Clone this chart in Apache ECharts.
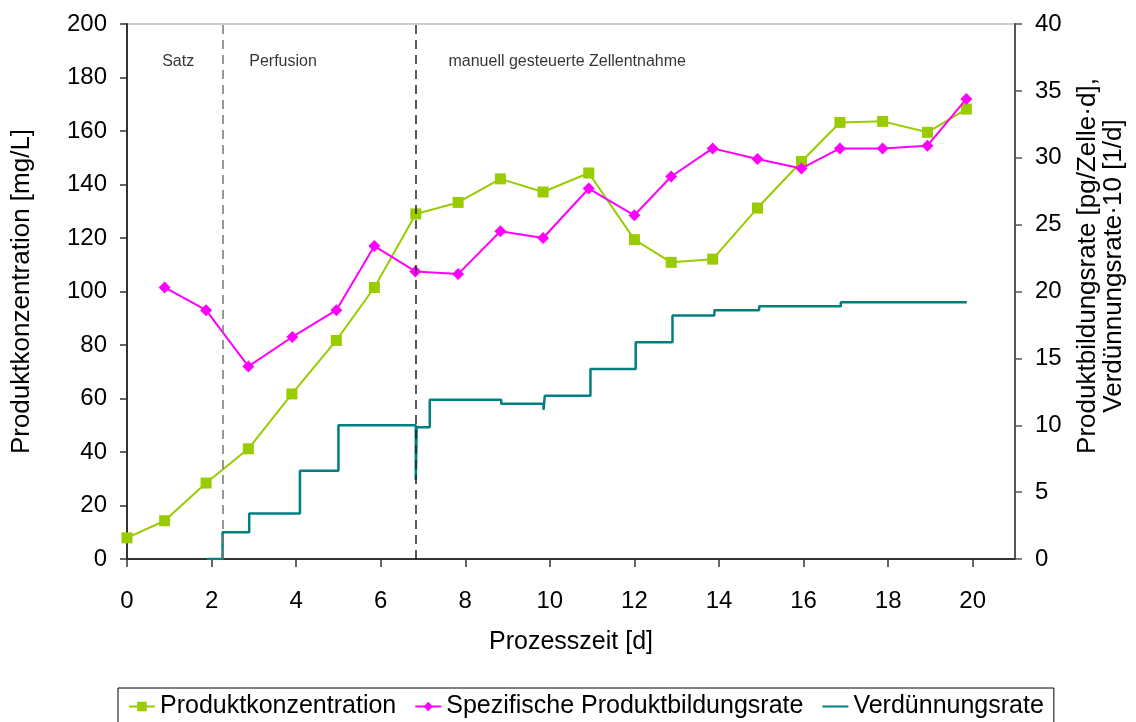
<!DOCTYPE html>
<html>
<head>
<meta charset="utf-8">
<script src="https://cdn.jsdelivr.net/npm/echarts@6/dist/echarts.min.js"></script>
<style>html,body{margin:0;padding:0;background:#fff}#c{width:1136px;height:722px}</style>
</head>
<body>
<div id="c"></div>
<script>
// Produktkonzentration [mg/L] (left axis)
const concX = [0, 0.89, 1.87, 2.87, 3.9, 4.95, 5.85, 6.83, 7.83, 8.83, 9.84, 10.92, 12.0, 12.87, 13.85, 14.91, 15.95, 16.86, 17.87, 18.93, 19.85];
const concY = [7.9, 14.3, 28.4, 41.2, 61.7, 81.7, 101.5, 129.0, 133.3, 142.1, 137.2, 144.3, 119.4, 110.9, 112.1, 131.2, 148.6, 163.2, 163.6, 159.5, 168.2];
// Spezifische Produktbildungsrate (right axis)
const rateX = [0.89, 1.87, 2.87, 3.91, 4.95, 5.85, 6.82, 7.83, 8.83, 9.84, 10.92, 12.0, 12.87, 13.85, 14.91, 15.95, 16.86, 17.87, 18.93, 19.85];
const rateY = [20.3, 18.6, 14.4, 16.6, 18.6, 23.4, 21.5, 21.3, 24.5, 24.0, 27.7, 25.7, 28.6, 30.7, 29.9, 29.2, 30.7, 30.7, 30.9, 34.4];
// Verdünnungsrate·10 (right axis, step changes)
const dilX = [1.89, 2.26, 2.89, 4.09, 5.0, 6.83, 6.85, 7.16, 8.85, 9.85, 9.88, 10.96, 12.03, 12.9, 13.89, 14.95, 16.88, 19.86];
const dilY = [0, 2.0, 3.4, 6.6, 10.0, 5.9, 9.85, 11.9, 11.6, 11.15, 12.2, 14.2, 16.2, 18.2, 18.6, 18.9, 19.2, 19.2];
// phase borders and labels
const phaseBorders = [2.26, 6.83];
const phaseNames = ['Satz', 'Perfusion', 'manuell gesteuerte Zellentnahme'];
const phaseLabelX = [1.21, 3.69, 10.41];
const phaseLabelY = 186;
const seriesNames = ['Produktkonzentration', 'Spezifische Produktbildungsrate', 'Verdünnungsrate'];

const FONT = '"Liberation Sans", Arial, sans-serif';
const zip = (a, b) => a.map((v, i) => [v, b[i]]);

const chart = echarts.init(document.getElementById('c'), null, {renderer: 'canvas'});
chart.setOption({
  animation: false,
  backgroundColor: '#fff',
  textStyle: {fontFamily: FONT, color: '#000'},
  grid: {left: 127, right: 121, top: 24, bottom: 163, show: true, borderColor: '#999', borderWidth: 1},
  xAxis: {
    type: 'value', min: 0, max: 21, interval: 2,
    name: 'Prozesszeit [d]', nameLocation: 'middle', nameGap: 71,
    nameTextStyle: {fontSize: 25, color: '#000', fontFamily: FONT},
    axisLine: {lineStyle: {color: '#333', width: 2}},
    axisTick: {length: 8, lineStyle: {color: '#333', width: 1.5}},
    axisLabel: {fontSize: 24, color: '#000', margin: 30, showMaxLabel: false, fontFamily: FONT},
    splitLine: {show: false}
  },
  yAxis: [{
    type: 'value', min: 0, max: 200, interval: 20, position: 'left',
    name: 'Produktkonzentration [mg/L]', nameLocation: 'middle', nameGap: 92, nameRotate: 90,
    nameTextStyle: {fontSize: 26, color: '#000', fontFamily: FONT},
    axisLine: {show: true, lineStyle: {color: '#333', width: 2}},
    axisTick: {show: true, length: 7, lineStyle: {color: '#333', width: 1.5}},
    axisLabel: {fontSize: 24, color: '#000', margin: 20, fontFamily: FONT},
    splitLine: {show: false}
  }, {
    type: 'value', min: 0, max: 40, interval: 5, position: 'right',
    axisLine: {show: true, lineStyle: {color: '#555', width: 2}},
    axisTick: {show: true, length: 7, lineStyle: {color: '#555', width: 1.5}},
    axisLabel: {fontSize: 24, color: '#000', margin: 20, fontFamily: FONT},
    splitLine: {show: false}
  }],
  graphic: [{
    type: 'text', x: 1101, y: 266, rotation: Math.PI / 2,
    style: {
      text: 'Produktbildungsrate [pg/Zelle·d],\nVerdünnungsrate·10 [1/d]',
      font: '26px ' + FONT, fill: '#000', align: 'center', verticalAlign: 'middle', lineHeight: 26
    }
  }],
  legend: {
    data: [
      {name: seriesNames[0]},
      {name: seriesNames[1]},
      {name: seriesNames[2], itemStyle: {opacity: 0}}
    ],
    left: 118, top: 688, padding: [6, 10], itemGap: 18,
    itemWidth: 26, itemHeight: 12,
    borderColor: '#000', borderWidth: 1,
    textStyle: {fontSize: 25, color: '#000', fontFamily: FONT}
  },
  series: [{
    name: seriesNames[2], type: 'line', yAxisIndex: 1, step: 'end',
    data: zip(dilX, dilY), symbol: 'none', showSymbol: false,
    lineStyle: {color: '#008080', width: 2.5}, itemStyle: {color: '#008080'}, z: 2,
    markLine: {
      silent: true, symbol: 'none', label: {show: false},
      data: [
        {xAxis: phaseBorders[0], lineStyle: {color: '#777', type: [9, 6], width: 1.5}},
        {xAxis: phaseBorders[1], lineStyle: {color: '#222', type: [9, 6], width: 1.5}}
      ]
    }
  }, {
    name: seriesNames[0], type: 'line', yAxisIndex: 0,
    data: zip(concX, concY), symbol: 'rect', symbolSize: 11,
    lineStyle: {color: '#99CC00', width: 2}, itemStyle: {color: '#99CC00'}, z: 3
  }, {
    name: seriesNames[1], type: 'line', yAxisIndex: 1,
    data: zip(rateX, rateY), symbol: 'diamond', symbolSize: 12,
    lineStyle: {color: '#FF00FF', width: 2}, itemStyle: {color: '#FF00FF'}, z: 4
  }, {
    name: 'phases', type: 'scatter', yAxisIndex: 0, symbolSize: 0, silent: true,
    data: phaseNames.map((n, i) => ({name: n, value: [phaseLabelX[i], phaseLabelY]})),
    label: {show: true, position: 'inside', formatter: p => p.name, fontSize: 16, color: '#000',
            textBorderWidth: 0, fontFamily: FONT}
  }]
});
</script>
</body>
</html>
